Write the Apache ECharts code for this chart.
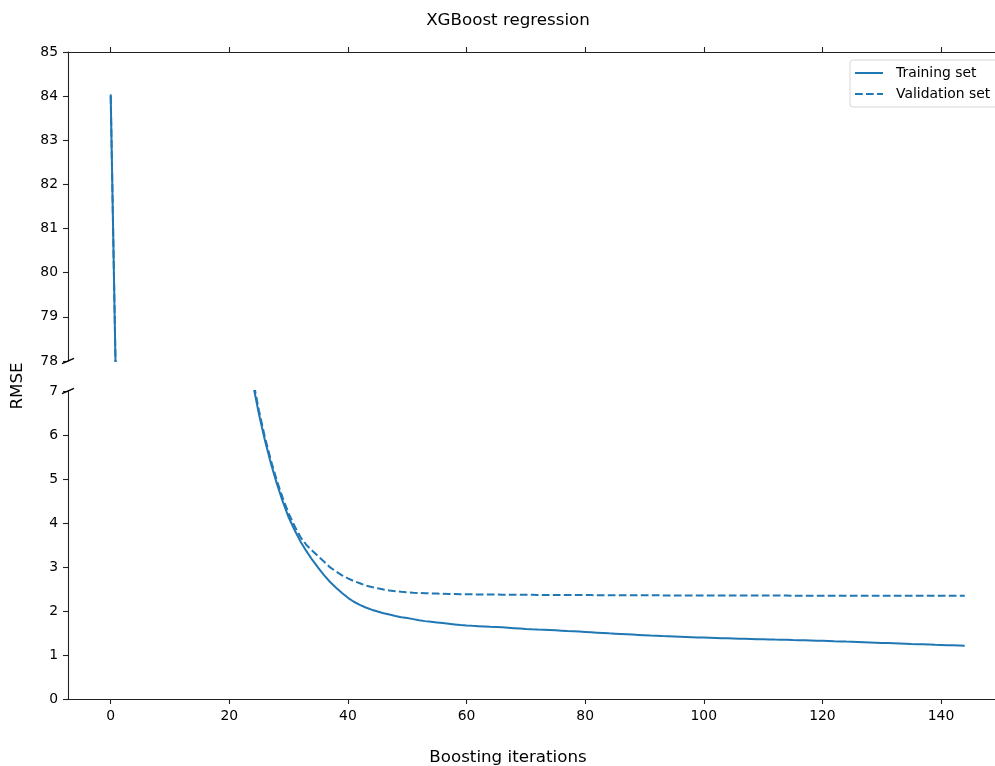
<!DOCTYPE html>
<html>
<head>
<meta charset="utf-8">
<script src="https://cdn.jsdelivr.net/npm/echarts@6/dist/echarts.min.js"></script>
<style>
html, body { margin: 0; padding: 0; background: #fff; }
#main { width: 995px; height: 766px; }
</style>
</head>
<body>
<div id="main"></div>
<script>
// RMSE per boosting iteration (0..144)
var trainRmse = [
    84.04, 76.5, 69.0, 62.2, 56.1, 50.6, 45.7, 41.2, 37.2, 33.5,
    30.2, 27.3, 24.6, 22.2, 20.0, 18.1, 16.3, 14.7, 13.3, 12.0,
    10.8, 9.74, 8.79, 7.93, 7.15, 6.47, 5.88, 5.36, 4.90, 4.49,
    4.13, 3.84, 3.58, 3.36, 3.16, 2.98, 2.81, 2.66, 2.53, 2.41,
    2.30, 2.21, 2.14, 2.08, 2.03, 1.99, 1.95, 1.92, 1.885, 1.86,
    1.84, 1.815, 1.79, 1.77, 1.755, 1.74, 1.725, 1.71, 1.695, 1.68,
    1.67, 1.662, 1.655, 1.648, 1.64, 1.635, 1.628, 1.62, 1.61, 1.60,
    1.59, 1.583, 1.577, 1.572, 1.566, 1.56, 1.553, 1.546, 1.54, 1.532,
    1.524, 1.516, 1.508, 1.50, 1.492, 1.485, 1.478, 1.471, 1.464, 1.457,
    1.45, 1.443, 1.437, 1.43, 1.425, 1.42, 1.415, 1.41, 1.405, 1.40,
    1.395, 1.39, 1.385, 1.38, 1.378, 1.375, 1.372, 1.37, 1.365, 1.36,
    1.357, 1.354, 1.35, 1.347, 1.344, 1.34, 1.337, 1.334, 1.33, 1.326,
    1.322, 1.318, 1.313, 1.309, 1.304, 1.30, 1.295, 1.29, 1.285, 1.28,
    1.275, 1.27, 1.265, 1.26, 1.255, 1.25, 1.246, 1.242, 1.237, 1.232,
    1.228, 1.224, 1.22, 1.216, 1.212
];
var validRmse = [
    84.0, 76.6, 69.1, 62.3, 56.2, 50.7, 45.8, 41.3, 37.3, 33.6,
    30.3, 27.4, 24.7, 22.3, 20.1, 18.2, 16.4, 14.8, 13.4, 12.1,
    10.9, 9.84, 8.89, 8.03, 7.25, 6.55, 5.95, 5.43, 4.97, 4.57,
    4.22, 3.93, 3.68, 3.50, 3.37, 3.24, 3.12, 2.99, 2.90, 2.81,
    2.74, 2.68, 2.63, 2.58, 2.545, 2.515, 2.49, 2.465, 2.45, 2.435,
    2.425, 2.415, 2.41, 2.405, 2.40, 2.395, 2.39, 2.388, 2.385, 2.382,
    2.38, 2.378, 2.376, 2.375, 2.374, 2.373, 2.372, 2.371, 2.37, 2.369,
    2.368, 2.367, 2.366, 2.366, 2.365, 2.364, 2.364, 2.363, 2.362, 2.362,
    2.361, 2.361, 2.36, 2.36, 2.359, 2.359, 2.358, 2.358, 2.357, 2.357,
    2.356, 2.356, 2.356, 2.355, 2.355, 2.355, 2.354, 2.354, 2.354, 2.353,
    2.353, 2.353, 2.352, 2.352, 2.352, 2.352, 2.351, 2.351, 2.351, 2.351,
    2.35, 2.35, 2.35, 2.35, 2.35, 2.349, 2.349, 2.349, 2.349, 2.349,
    2.348, 2.348, 2.348, 2.348, 2.348, 2.347, 2.347, 2.347, 2.347, 2.347,
    2.346, 2.346, 2.346, 2.346, 2.346, 2.346, 2.345, 2.345, 2.345, 2.345,
    2.345, 2.345, 2.344, 2.344, 2.344
];
var xTicks = [0, 20, 40, 60, 80, 100, 120, 140];
var xRange = [-7.2, 149.1];   // right side of the original figure is cut off
var upperRange = [78, 85];
var lowerRange = [0, 7];

var blue = '#1f77b4';
var axisColor = '#222';
var font = 'DejaVu Sans';

function pairs(arr) {
    return arr.map(function (v, i) { return [i, v]; });
}

var myChart = echarts.init(document.getElementById('main'));

function yAxisCfg(range, gridIndex) {
    return {
        type: 'value',
        gridIndex: gridIndex,
        position: 'left',
        min: range[0],
        max: range[1],
        interval: 1,
        axisLine: { show: true, onZero: false, lineStyle: { color: axisColor, width: 1.1 } },
        axisTick: { show: true, length: 5, lineStyle: { color: axisColor, width: 1.1 } },
        axisLabel: { color: '#000', fontFamily: font, fontSize: 13.9, margin: 10 },
        splitLine: { show: false }
    };
}

function xAxisCfg(gridIndex, pos, labels) {
    return {
        type: 'value', gridIndex: gridIndex, position: pos,
        min: xRange[0], max: xRange[1],
        axisLine: { show: true, onZero: false, lineStyle: { color: axisColor, width: 1.1 } },
        axisTick: { show: true, length: 5, customValues: xTicks, lineStyle: { color: axisColor, width: 1.1 } },
        axisLabel: { show: labels, color: '#000', fontFamily: font, fontSize: 13.9, margin: 10, customValues: xTicks },
        splitLine: { show: false }
    };
}

function lineSeries(name, data, gridIndex, dashed) {
    return {
        name: name,
        type: 'line',
        xAxisIndex: gridIndex,
        yAxisIndex: gridIndex,
        data: pairs(data),
        symbol: 'none',
        clip: true,
        itemStyle: { color: blue },
        lineStyle: { color: blue, width: 2, type: dashed ? [7.7, 3.3] : 'solid' }
    };
}

var option = {
    animation: false,
    backgroundColor: '#fff',
    grid: [
        { left: 68, right: 0, top: 52, height: 309 },   // upper panel 78-85
        { left: 68, right: 0, top: 391, height: 308 }   // lower panel 0-7
    ],
    xAxis: [xAxisCfg(0, 'top', false), xAxisCfg(1, 'bottom', true)],
    yAxis: [yAxisCfg(upperRange, 0), yAxisCfg(lowerRange, 1)],
    legend: {
        orient: 'vertical',
        left: 850,
        top: 60,
        padding: [6, 10, 6, 5],
        itemGap: 7,
        itemWidth: 28,
        itemHeight: 2,
        backgroundColor: 'rgba(255,255,255,0.8)',
        borderColor: '#d6d6d6',
        borderWidth: 1,
        borderRadius: 3,
        textStyle: { color: '#000', fontFamily: font, fontSize: 13.9, padding: [0, 0, 0, 8] },
        data: [
            { name: 'Training set', icon: 'path://M0 0H28V2H0Z' },
            { name: 'Validation set', icon: 'path://M0 0H7.7V2H0Z M11 0H18.7V2H11Z M22 0H28V2H22Z' }
        ]
    },
    series: [
        lineSeries('Training set', trainRmse, 0, false),
        lineSeries('Validation set', validRmse, 0, true),
        lineSeries('Training set', trainRmse, 1, false),
        lineSeries('Validation set', validRmse, 1, true)
    ]
};
myChart.setOption(option);

// break marks on the left spine, plus figure-level texts
var pUp = myChart.convertToPixel({ gridIndex: 0 }, [xRange[0], upperRange[0]]);
var pLow = myChart.convertToPixel({ gridIndex: 1 }, [xRange[0], lowerRange[1]]);
function breakMark(p) {
    return {
        type: 'line',
        shape: { x1: p[0] - 6, y1: p[1] + 2.6, x2: p[0] + 6, y2: p[1] - 2.6 },
        style: { stroke: '#000', lineWidth: 1.5 },
        z: 100
    };
}
myChart.setOption({
    graphic: [
        breakMark(pUp),
        breakMark(pLow),
        {
            type: 'text', x: 508, y: 21,
            style: { text: 'XGBoost regression', font: '16.7px "DejaVu Sans"', fill: '#000', textAlign: 'center', textVerticalAlign: 'middle' }
        },
        {
            type: 'text', x: 508, y: 758,
            style: { text: 'Boosting iterations', font: '16.7px "DejaVu Sans"', fill: '#000', textAlign: 'center', textVerticalAlign: 'middle' }
        },
        {
            type: 'text', x: 18, y: 386, rotation: Math.PI / 2,
            style: { text: 'RMSE', font: '16.7px "DejaVu Sans"', fill: '#000', textAlign: 'center', textVerticalAlign: 'middle' }
        }
    ]
});
</script>
</body>
</html>
